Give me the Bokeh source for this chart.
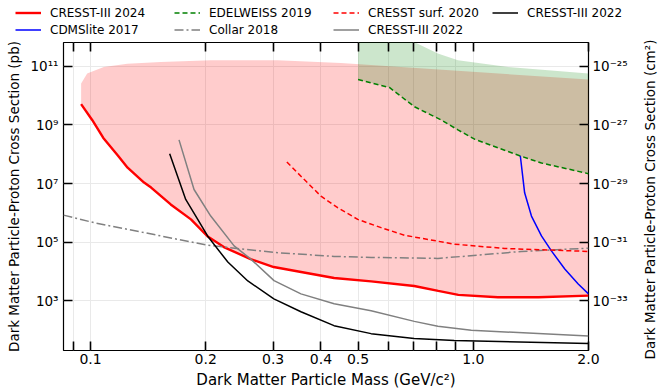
import math
from bokeh.plotting import figure
from bokeh.layouts import column, row
from bokeh.models import (LogAxis, FixedTicker, CustomJSTickFormatter, Legend, LegendItem, Label)
from bokeh.embed import file_html
from bokeh.resources import INLINE

# ---------------- data ----------------
x_ticks = [0.09, 0.1, 0.2, 0.3, 0.4, 0.5, 0.6, 0.7, 0.8, 0.9, 1.0, 2.0]
x_labels = ["", "0.1", "0.2", "0.3", "0.4", "0.5", "", "", "", "", "1.0", "2.0"]
y_ticks = [1e3, 1e5, 1e7, 1e9, 1e11]
y_labels_pb = ["10³", "10⁵", "10⁷", "10⁹", "10¹¹"]
y_labels_cm2 = ["10⁻³³", "10⁻³¹", "10⁻²⁹", "10⁻²⁷", "10⁻²⁵"]

cresst24_x = [0.0945, 0.101, 0.108, 0.118, 0.125, 0.138, 0.144, 0.162, 0.183, 0.202, 0.223,
              0.262, 0.301, 0.355, 0.433, 0.541, 0.701, 0.810, 0.914, 1.16, 1.48, 2.0]
cresst24_y = [5.15e9, 1.48e9, 3.6e8, 8.9e7, 3.5e7, 1.08e7, 7.3e6, 1.94e6, 6.0e5, 1.6e5, 6.8e4,
              2.65e4, 1.42e4, 9.6e3, 6.0e3, 4.6e3, 3.2e3, 2.18e3, 1.6e3, 1.33e3, 1.33e3, 1.51e3]
cresst24_top_x = [0.0945, 0.098, 0.1083, 0.1248, 0.1525, 0.2061, 0.3081, 0.4512, 2.0]
cresst24_top_y = [2.59e10, 5.66e10, 9.5e10, 1.23e11, 1.40e11, 1.60e11, 1.60e11, 1.29e11, 3.54e10]

edel_x = [0.5, 0.6037, 0.7022, 0.8246, 0.912, 1.008, 1.322, 1.507, 2.0]
edel_y = [3.54e10, 1.9e10, 4.17e9, 1.48e9, 6.77e8, 3.27e8, 8.9e7, 5.03e7, 2.18e7]
edel_top_x = [0.5, 0.66, 0.705, 0.808, 0.912, 1.233, 2.0]
edel_top_y = [2e12, 2e12, 6.5e11, 2.76e11, 1.6e11, 9.5e10, 5.66e10]

surf_x = [0.3258, 0.3618, 0.4001, 0.4423, 0.4991, 0.5742, 0.6608, 0.8934, 1.207, 2.0]
surf_y = [5.44e7, 1.37e7, 3.71e6, 1.5e6, 6.0e5, 3.15e5, 1.73e5, 8.55e4, 6.11e4, 4.84e4]

cresst22b_x = [0.161, 0.1773, 0.1906, 0.2024, 0.2284, 0.2576, 0.3013, 0.3546, 0.4327, 0.5408,
               0.7007, 0.892, 2.0]
cresst22b_y = [1.04e8, 2.87e6, 6.0e5, 1.6e5, 2.1e4, 4.76e3, 1.17e3, 424, 142, 76, 51.5, 44, 34.8]

cdms_x = [1.327, 1.362, 1.419, 1.507, 1.600, 1.734, 1.880, 2.0]
cdms_y = [8.9e7, 4.84e6, 7.8e5, 1.64e5, 5.07e4, 1.22e4, 3.77e3, 1.73e3]

collar_x = [0.085, 0.102, 0.1248, 0.1525, 0.202, 0.3016, 0.433, 0.541, 0.808, 1.029, 1.336, 2.0]
collar_y = [8.4e5, 4.65e5, 2.76e5, 1.64e5, 7.9e4, 4.48e4, 3.27e4, 3.03e4, 2.8e4, 3.62e4,
            4.84e4, 6.26e4]

cresst22g_x = [0.1703, 0.1864, 0.2061, 0.2372, 0.2623, 0.3016, 0.3546, 0.433, 0.5408, 0.7014,
               0.8082, 0.988, 2.0]
cresst22g_y = [3.1e8, 6.27e6, 7.8e5, 7.5e4, 2.65e4, 4.9e3, 1.73e3, 791, 458, 199, 135, 98.4, 63.6]

right_label = "Dark Matter Particle-Proton Cross Section (cm²)"

FONT = "DejaVu Sans"
TOTAL_W, TOTAL_H = 672, 391
RF_W = 36
W = TOTAL_W - RF_W
LEG_H = 38
ROW_H = 17

def no_align(fig):
    if hasattr(fig, "frame_align"):
        fig.frame_align = False

p = figure(width=W, height=TOTAL_H - LEG_H, x_axis_type="log", y_axis_type="log",
           x_range=(0.085, 2.0), y_range=(20.2, 6.5e11),
           output_backend="svg", toolbar_location=None,
           min_border_left=63, min_border_right=W - 588, min_border_top=4, min_border_bottom=38)
no_align(p)
p.outline_line_color = "black"
p.outline_line_width = 1.2
p.background_fill_color = "white"
p.border_fill_color = "white"

def fmt(tick_vals, labels):
    return CustomJSTickFormatter(args=dict(tv=tick_vals, lb=labels), code="""
        const i = tv.findIndex(t => Math.abs(t - tick) <= 1e-6 * Math.abs(t));
        return i >= 0 ? lb[i] : "";
    """)

xticker = FixedTicker(ticks=x_ticks)
yticker = FixedTicker(ticks=y_ticks)

def style_axis(ax):
    ax.major_tick_in = 9
    ax.major_tick_out = 0
    ax.major_tick_line_width = 1.6
    ax.major_tick_line_color = "black"
    ax.minor_tick_line_color = None
    ax.axis_line_color = None
    ax.major_label_text_font = FONT
    ax.major_label_text_font_size = "13.5px"
    ax.major_label_text_color = "black"
    ax.axis_label_text_font = FONT
    ax.axis_label_text_font_size = "13.5px"
    ax.axis_label_text_font_style = "normal"
    ax.axis_label_text_color = "black"

xa = p.xaxis[0]
xa.ticker = xticker
xa.formatter = fmt(x_ticks, x_labels)
xa.axis_label = "Dark Matter Particle Mass (GeV/c²)"
style_axis(xa)
xa.major_label_text_font_size = "14px"
xa.axis_label_text_font_size = "15px"
xa.major_label_standoff = 3
xa.axis_label_standoff = 4

ya = p.yaxis[0]
ya.ticker = yticker
ya.formatter = fmt(y_ticks, y_labels_pb)
ya.axis_label = "Dark Matter Particle-Proton Cross Section (pb)"
style_axis(ya)
ya.major_label_standoff = 5
ya.axis_label_standoff = 5

ra = LogAxis(ticker=yticker, formatter=fmt(y_ticks, y_labels_cm2))
style_axis(ra)
ra.major_label_standoff = 4
p.add_layout(ra, "right")

ta = LogAxis(ticker=xticker, formatter=fmt(x_ticks, [""] * len(x_ticks)))
style_axis(ta)
ta.major_label_text_font_size = "0px"
ta.major_label_standoff = 0
p.add_layout(ta, "above")

p.xgrid.ticker = xticker
p.ygrid.ticker = yticker
p.grid.grid_line_color = "#e9e9e9"
p.grid.grid_line_width = 1

# fills
p.patch(cresst24_x + cresst24_top_x[::-1], cresst24_y + cresst24_top_y[::-1],
        fill_color="#ff0000", fill_alpha=0.2, line_color=None)
p.patch(edel_x + edel_top_x[::-1], edel_y + edel_top_y[::-1],
        fill_color="#008000", fill_alpha=0.2, line_color=None)

series = {
    "c24": (cresst24_x, cresst24_y, dict(line_color="#ff0000", line_width=2.4)),
    "cdms": (cdms_x, cdms_y, dict(line_color="#0000ff", line_width=1.5)),
    "edel": (edel_x, edel_y, dict(line_color="#008000", line_width=1.5, line_dash="5 3")),
    "collar": (collar_x, collar_y, dict(line_color="#808080", line_width=1.5,
                                        line_dash="9 3 2 3")),
    "surf": (surf_x, surf_y, dict(line_color="#ff0000", line_width=1.5, line_dash="5 3")),
    "c22g": (cresst22g_x, cresst22g_y, dict(line_color="#808080", line_width=1.5)),
    "c22b": (cresst22b_x, cresst22b_y, dict(line_color="black", line_width=1.5)),
}
for key in ["c24", "cdms", "edel", "collar", "surf", "c22g", "c22b"]:
    xs, ys, st = series[key]
    p.line(xs, ys, **st)

# ---------- legend strip above the plot ----------
lf = figure(width=W, height=LEG_H, x_range=(0, 1), y_range=(0, 1),
            output_backend="svg", toolbar_location=None,
            x_axis_location=None, y_axis_location=None,
            min_border=0, min_border_left=0, min_border_right=0,
            min_border_top=0, min_border_bottom=0)
no_align(lf)
lf.outline_line_color = None
lf.grid.visible = False
lf.background_fill_color = "white"
lf.border_fill_color = "white"

order = [("CRESST-III 2024", "c24"), ("EDELWEISS 2019", "edel"),
         ("CRESST surf. 2020", "surf"), ("CRESST-III 2022", "c22b"),
         ("CDMSlite 2017", "cdms"), ("Collar 2018", "collar"),
         ("CRESST-III 2022", "c22g")]
items = []
for lab, key in order:
    xs, ys, st = series[key]
    # same series drawn in the legend strip; its values lie outside this strip's (0,1) range
    r = lf.line(xs, ys, **st)
    items.append(LegendItem(label=lab, renderers=[r]))

legend = Legend(items=items, orientation="horizontal", ncols=4, location=(15, 0))
legend.border_line_color = None
legend.background_fill_alpha = 0
legend.padding = 0
legend.margin = 0
legend.spacing = 0
legend.glyph_width = 26
legend.glyph_height = ROW_H
legend.label_height = ROW_H
legend.label_standoff = 9
legend.label_width = 124
legend.label_text_font = FONT
legend.label_text_font_size = "12px"
legend.label_text_color = "black"
lf.add_layout(legend, "center")

# ---------- right-hand axis title strip ----------
rf = figure(width=RF_W, height=TOTAL_H, x_range=(0, 1), y_range=(0, 1),
            output_backend="svg", toolbar_location=None,
            x_axis_location=None, y_axis_location=None,
            min_border=0, min_border_left=0, min_border_right=0,
            min_border_top=0, min_border_bottom=0)
no_align(rf)
rf.outline_line_color = None
rf.grid.visible = False
rf.background_fill_color = "white"
rf.border_fill_color = "white"
rf.add_layout(Label(x=13, y=TOTAL_H - 199, x_units="screen", y_units="screen",
                    text=right_label, angle=math.pi / 2, text_align="center",
                    text_baseline="middle", text_font=FONT, text_font_size="13.5px",
                    text_color="black"))

layout = row(column(lf, p, spacing=0), rf, spacing=0)
open("out.html", "w").write(file_html(layout, INLINE))
